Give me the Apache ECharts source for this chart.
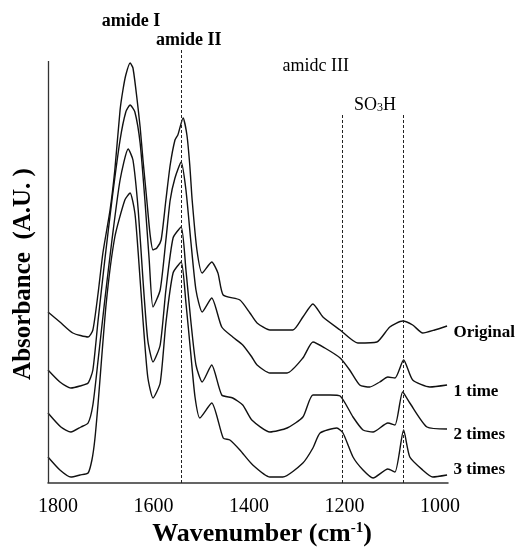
<!DOCTYPE html>
<html>
<head>
<meta charset="utf-8">
<script src="https://cdn.jsdelivr.net/npm/echarts@6/dist/echarts.min.js"></script>
<style>
html,body{margin:0;padding:0;background:#fff;}
#chart{width:521px;height:547px;}
</style>
</head>
<body>
<div id="chart"></div>
<script>
// ---- data (wavenumber in cm-1, absorbance in arbitrary units) ----
const xTickValues = [1800, 1600, 1400, 1200, 1000];
const seriesNames = ['Original', '1 time', '2 times', '3 times'];

const originalWn  = [1821,1796,1769,1737,1727,1716,1706,1691,1681,1670,1664,1658,1649,1643,1635,1628,1622,1614,1607,1601,1593,1584,1574,1565,1555,1549,1538,1530,1524,1519,1509,1498,1478,1465,1454,1419,1398,1383,1356,1308,1287,1266,1245,1209,1172,1132,1105,1078,1057,1036,1011,985];
const originalAbs = [1.71,1.61,1.50,1.46,1.53,1.90,2.30,2.73,3.13,3.73,3.93,4.08,4.20,4.15,3.86,3.56,3.23,2.83,2.48,2.33,2.35,2.43,2.83,3.18,3.43,3.48,3.65,3.48,3.18,2.83,2.33,2.10,2.21,2.10,1.88,1.83,1.70,1.60,1.53,1.53,1.66,1.79,1.66,1.53,1.40,1.41,1.56,1.62,1.58,1.50,1.53,1.57];

const oneTimeWn  = [1821,1796,1773,1754,1737,1727,1716,1702,1687,1670,1658,1649,1639,1628,1618,1609,1601,1586,1574,1565,1555,1542,1532,1522,1511,1498,1478,1457,1434,1413,1394,1383,1356,1320,1287,1266,1241,1209,1189,1168,1147,1126,1109,1094,1076,1057,1021,985];
const oneTimeAbs = [1.13,1.01,0.95,0.97,1.00,1.13,1.63,2.23,2.83,3.43,3.71,3.78,3.71,3.40,2.83,2.23,1.76,1.93,2.43,2.83,3.05,3.21,2.93,2.43,1.93,1.71,1.85,1.56,1.46,1.38,1.26,1.18,1.10,1.10,1.25,1.41,1.35,1.25,1.13,0.98,0.96,1.01,1.06,1.05,1.23,1.03,0.96,0.98];

const twoTimesWn  = [1821,1794,1773,1752,1737,1727,1716,1702,1687,1670,1653,1643,1632,1622,1612,1601,1586,1574,1559,1542,1532,1522,1511,1498,1478,1457,1434,1413,1394,1356,1320,1287,1266,1230,1209,1182,1161,1140,1109,1094,1078,1063,1027,985];
const twoTimesAbs = [0.70,0.56,0.51,0.56,0.60,0.78,1.23,1.83,2.43,3.03,3.34,3.23,2.73,2.03,1.43,1.21,1.38,1.93,2.45,2.56,2.13,1.63,1.18,1.01,1.18,0.88,0.85,0.78,0.63,0.51,0.55,0.66,0.88,0.88,0.87,0.66,0.53,0.51,0.60,0.58,0.91,0.80,0.56,0.54];

const threeTimesWn  = [1821,1796,1773,1754,1737,1729,1723,1716,1699,1681,1660,1649,1639,1632,1622,1612,1601,1586,1574,1559,1542,1532,1522,1513,1503,1478,1454,1440,1419,1392,1356,1329,1287,1266,1251,1216,1203,1182,1161,1140,1109,1094,1076,1063,1036,1015,985];
const threeTimesAbs = [0.26,0.13,0.06,0.08,0.10,0.23,0.43,0.80,1.80,2.46,2.83,2.90,2.70,2.30,1.63,1.06,0.85,1.00,1.60,2.10,2.21,1.80,1.30,0.86,0.65,0.80,0.45,0.43,0.33,0.18,0.06,0.06,0.20,0.35,0.50,0.55,0.50,0.26,0.13,0.05,0.14,0.11,0.53,0.26,0.13,0.06,0.08];

// reference (dashed) lines: [wavenumber, top absorbance]
const refLineWn  = [1542, 1205, 1077];
const refLineTop = [4.33, 3.70, 3.70];

// left frame line: wavenumber and top
const frameWn = 1821;
const frameTop = 4.22;

// peak annotations: text, wavenumber, absorbance
const annText = ['amide I', 'amide II', 'amidc III', 'SO3H'];
const annWn   = [1647, 1526, 1260, 1136];
const annAbs  = [4.62, 4.43, 4.17, 3.78];

// series name label vertical offsets
const endOffsets = [7, 7, 6, -5];

const serif = "'Liberation Serif','Times New Roman',serif";

function zip(xs, ys){ return xs.map((x,i)=>[x, ys[i]]); }
const allWn = [originalWn, oneTimeWn, twoTimesWn, threeTimesWn];
const allAbs = [originalAbs, oneTimeAbs, twoTimesAbs, threeTimesAbs];

const series = seriesNames.map((name, i) => {
  const n = allWn[i].length;
  return {
    name: name,
    type: 'line',
    data: zip(allWn[i], allAbs[i]),
    showSymbol: false,
    smooth: 0.2,
    clip: false,
    lineStyle: { color: '#111', width: 1.4 },
    markPoint: {
      silent: true,
      symbol: 'rect',
      symbolSize: 1,
      itemStyle: { color: 'rgba(0,0,0,0)' },
      data: [{
        coord: [allWn[i][n - 1], allAbs[i][n - 1]],
        label: {
          show: true,
          position: 'right',
          distance: 6,
          offset: [0, endOffsets[i]],
          formatter: name,
          fontFamily: serif,
          fontWeight: 'bold',
          fontSize: 17,
          color: '#000'
        }
      }]
    }
  };
});

series[0].markLine = {
  silent: true,
  symbol: ['none', 'none'],
  label: { show: false },
  lineStyle: { type: [3, 2], color: '#222', width: 1 },
  data: refLineWn.map((w, i) => [{ coord: [w, 0] }, { coord: [w, refLineTop[i]] }])
    .concat([[{ coord: [frameWn, 0], lineStyle: { type: 'solid', color: '#333', width: 1.3 } },
              { coord: [frameWn, frameTop] }]])
};

const annWeights = ['bold', 'bold', 'normal', 'normal'];
series[0].markPoint.data = series[0].markPoint.data.concat(annText.map((t, i) => ({
  coord: [annWn[i], annAbs[i]],
  label: {
    show: true,
    position: 'inside',
    color: '#000',
    fontFamily: serif,
    fontWeight: annWeights[i],
    fontSize: 18,
    formatter: t === 'SO3H' ? '{a|SO}{b|3}{a|H}' : t,
    rich: {
      a: { fontFamily: serif, fontSize: 18, color: '#000' },
      b: { fontFamily: serif, fontSize: 12, color: '#000', verticalAlign: 'bottom', padding: [6, 0, 0, 0] }
    }
  }
})));

const chart = echarts.init(document.getElementById('chart'), null, { renderer: 'canvas' });
chart.setOption({
  animation: false,
  backgroundColor: '#fff',
  grid: { left: 48, right: 73, top: 10, bottom: 64, containLabel: false },
  xAxis: {
    type: 'value',
    inverse: true,
    min: 983,
    max: 1821,
    axisLine: { show: true, lineStyle: { color: '#333', width: 1.5 } },
    axisTick: { show: false },
    splitLine: { show: false },
    axisLabel: {
      customValues: xTickValues,
      formatter: v => String(v),
      color: '#000',
      fontFamily: serif,
      fontSize: 20,
      margin: 14
    }
  },
  yAxis: {
    type: 'value',
    min: 0,
    max: 4.73,
    axisLine: { show: false },
    axisTick: { show: false },
    axisLabel: { show: false },
    splitLine: { show: false }
  },
  graphic: [
    {
      type: 'text',
      x: 262, y: 534,
      style: {
        text: '{a|Wavenumber (cm}{s|-1}{a|)}',
        align: 'center',
        verticalAlign: 'middle',
        rich: {
          a: { fontFamily: serif, fontWeight: 'bold', fontSize: 26, fill: '#000' },
          s: { fontFamily: serif, fontWeight: 'bold', fontSize: 15, fill: '#000', verticalAlign: 'top', padding: [0, 0, 10, 0] }
        }
      }
    },
    {
      type: 'text',
      x: 24, y: 274,
      rotation: Math.PI / 2,
      style: {
        text: 'Absorbance  (A.U. )',
        align: 'center',
        verticalAlign: 'middle',
        fontFamily: serif,
        fontWeight: 'bold',
        fontSize: 25,
        fill: '#000'
      }
    }
  ],
  series: series
});
</script>
</body>
</html>
